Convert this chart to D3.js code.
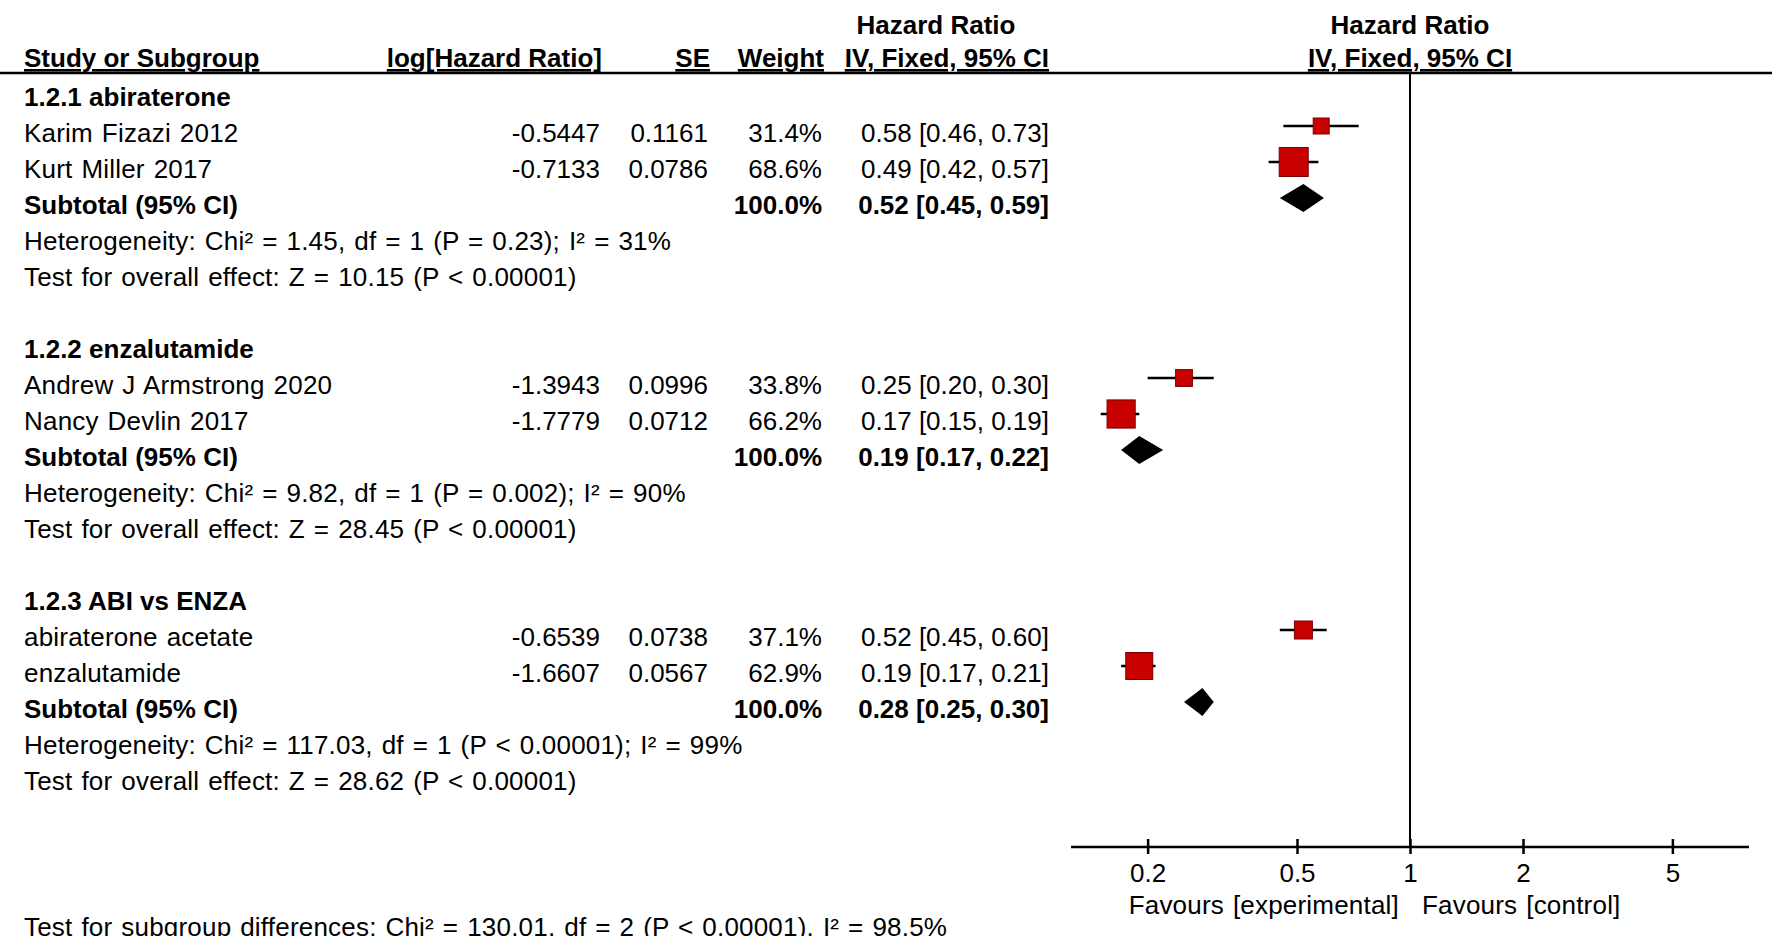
<!DOCTYPE html>
<html>
<head>
<meta charset="utf-8">
<script src="https://cdn.jsdelivr.net/npm/d3@7"></script>
<style>
  body { margin: 0; background: #fff; }
  svg text { font-family: "Liberation Sans", Arial, sans-serif; font-size: 26px; fill: #000; }
  .b { font-weight: bold; }
  .u { text-decoration: underline; }
  .w { letter-spacing: 0.2px; word-spacing: 1.5px; }
</style>
</head>
<body>
<div id="chart"></div>
<script>
// subgroups
const groupNames = ["1.2.1 abiraterone", "1.2.2 enzalutamide", "1.2.3 ABI vs ENZA"];
const groupHet = [
  "Heterogeneity: Chi\u00b2 = 1.45, df = 1 (P = 0.23); I\u00b2 = 31%",
  "Heterogeneity: Chi\u00b2 = 9.82, df = 1 (P = 0.002); I\u00b2 = 90%",
  "Heterogeneity: Chi\u00b2 = 117.03, df = 1 (P < 0.00001); I\u00b2 = 99%"
];
const groupTest = [
  "Test for overall effect: Z = 10.15 (P < 0.00001)",
  "Test for overall effect: Z = 28.45 (P < 0.00001)",
  "Test for overall effect: Z = 28.62 (P < 0.00001)"
];
const subWeight = [100.0, 100.0, 100.0];
const subHR = [0.52, 0.19, 0.28];
const subLo = [0.45, 0.17, 0.25];
const subHi = [0.59, 0.22, 0.30];

// studies
const studyNames = ["Karim Fizazi 2012", "Kurt Miller 2017", "Andrew J Armstrong 2020",
                    "Nancy Devlin 2017", "abiraterone acetate", "enzalutamide"];
const studyGroup = [0, 0, 1, 1, 2, 2];
const logHR = [-0.5447, -0.7133, -1.3943, -1.7779, -0.6539, -1.6607];
const seVal = [0.1161, 0.0786, 0.0996, 0.0712, 0.0738, 0.0567];
const weight = [31.4, 68.6, 33.8, 66.2, 37.1, 62.9];
const hr = [0.58, 0.49, 0.25, 0.17, 0.52, 0.19];
const hrLo = [0.46, 0.42, 0.20, 0.15, 0.45, 0.17];
const hrHi = [0.73, 0.57, 0.30, 0.19, 0.60, 0.21];

// axis
const axisTicks = [0.2, 0.5, 1, 2, 5];
const axisDomain = [0.125, 8];
const favourLeft = "Favours [experimental]";
const favourRight = "Favours [control]";
const overallTest = "Test for subgroup differences: Chi\u00b2 = 130.01, df = 2 (P < 0.00001), I\u00b2 = 98.5%";

const width = 1772, height = 936;
const rowH = 36, row0 = 106;
const col = { label: 24, logHR: 600, se: 708, weight: 822, ci: 1049, ciHead: 936 };
const axisY = 847, headLineY = 73;

const svg = d3.select("#chart").append("svg")
  .attr("width", width).attr("height", height);

const x = d3.scaleLog().domain(axisDomain).range([1071, 1749]);
const box = d3.scaleLinear().domain([0, 100]).range([5, 40]);
const baseline = i => row0 + rowH * i;
const ciText = (h, l, u) => h.toFixed(2) + " [" + l.toFixed(2) + ", " + u.toFixed(2) + "]";

// headers
svg.append("text").attr("class", "b").attr("x", col.ciHead).attr("y", 34)
  .attr("text-anchor", "middle").text("Hazard Ratio");
svg.append("text").attr("class", "b").attr("x", x(1)).attr("y", 34)
  .attr("text-anchor", "middle").text("Hazard Ratio");
const heads = [
  { t: "Study or Subgroup", x: col.label, a: "start" },
  { t: "log[Hazard Ratio]", x: col.logHR + 2, a: "end" },
  { t: "SE", x: col.se + 2, a: "end" },
  { t: "Weight", x: col.weight + 2, a: "end" },
  { t: "IV, Fixed, 95% CI", x: col.ci, a: "end" },
  { t: "IV, Fixed, 95% CI", x: x(1), a: "middle" }
];
svg.selectAll("text.head").data(heads).join("text")
  .attr("class", "head b u")
  .attr("x", d => d.x).attr("y", 67)
  .attr("text-anchor", d => d.a).text(d => d.t);

svg.append("line").attr("x1", 0).attr("x2", width)
  .attr("y1", headLineY).attr("y2", headLineY)
  .attr("stroke", "#000").attr("stroke-width", 2.5);

// line of no effect
svg.append("line").attr("x1", x(1)).attr("x2", x(1))
  .attr("y1", headLineY).attr("y2", axisY)
  .attr("stroke", "#000").attr("stroke-width", 2);

const g = svg.append("g");

groupNames.forEach((name, gi) => {
  const start = gi * 7;
  g.append("text").attr("class", "b").attr("x", col.label).attr("y", baseline(start)).text(name);

  let k = 1;
  studyNames.forEach((s, si) => {
    if (studyGroup[si] !== gi) return;
    const y = baseline(start + k);
    g.append("text").attr("class", "w").attr("x", col.label).attr("y", y).text(s);
    g.append("text").attr("x", col.logHR).attr("y", y).attr("text-anchor", "end").text(logHR[si].toFixed(4));
    g.append("text").attr("x", col.se).attr("y", y).attr("text-anchor", "end").text(seVal[si].toFixed(4));
    g.append("text").attr("x", col.weight).attr("y", y).attr("text-anchor", "end").text(weight[si].toFixed(1) + "%");
    g.append("text").attr("x", col.ci).attr("y", y).attr("text-anchor", "end").text(ciText(hr[si], hrLo[si], hrHi[si]));

    const my = y - 16, side = box(weight[si]);
    g.append("line").attr("x1", x(hrLo[si])).attr("x2", x(hrHi[si]))
      .attr("y1", my).attr("y2", my).attr("stroke", "#000").attr("stroke-width", 2.5);
    g.append("rect").attr("x", x(hr[si]) - side / 2).attr("y", my - side / 2)
      .attr("width", side).attr("height", side)
      .attr("fill", "#c80000").attr("stroke", "#7a0000").attr("stroke-width", 1);
    k++;
  });

  const ys = baseline(start + 3);
  g.append("text").attr("class", "b").attr("x", col.label).attr("y", ys).text("Subtotal (95% CI)");
  g.append("text").attr("class", "b").attr("x", col.weight).attr("y", ys).attr("text-anchor", "end")
    .text(subWeight[gi].toFixed(1) + "%");
  g.append("text").attr("class", "b").attr("x", col.ci).attr("y", ys).attr("text-anchor", "end")
    .text(ciText(subHR[gi], subLo[gi], subHi[gi]));
  const dy = ys - 16;
  g.append("path")
    .attr("d", "M" + x(subLo[gi]) + "," + dy + "L" + x(subHR[gi]) + "," + (dy - 14) +
               "L" + x(subHi[gi]) + "," + dy + "L" + x(subHR[gi]) + "," + (dy + 14) + "Z")
    .attr("fill", "#000");

  g.append("text").attr("class", "w").attr("x", col.label).attr("y", baseline(start + 4)).text(groupHet[gi]);
  g.append("text").attr("class", "w").attr("x", col.label).attr("y", baseline(start + 5)).text(groupTest[gi]);
});

svg.append("text").attr("class", "w").attr("x", col.label).attr("y", 936).text(overallTest);

// axis
svg.append("line").attr("x1", x.range()[0]).attr("x2", x.range()[1])
  .attr("y1", axisY).attr("y2", axisY).attr("stroke", "#000").attr("stroke-width", 2.5);
const ax = svg.append("g").attr("transform", "translate(0," + (axisY - 8) + ")")
  .call(d3.axisBottom(x).tickValues(axisTicks).tickFormat(d => String(d))
    .tickSizeInner(15).tickSizeOuter(0).tickPadding(10));
ax.select(".domain").remove();
ax.selectAll(".tick line").attr("stroke", "#000").attr("stroke-width", 2.5);
ax.selectAll(".tick text").attr("font-family", null).attr("font-size", null)
  .style("font-family", "'Liberation Sans', Arial, sans-serif").style("font-size", "26px");

svg.append("text").attr("class", "w").attr("x", x(1) - 11).attr("y", 914).attr("text-anchor", "end").text(favourLeft);
svg.append("text").attr("class", "w").attr("x", x(1) + 12).attr("y", 914).text(favourRight);
</script>
</body>
</html>
